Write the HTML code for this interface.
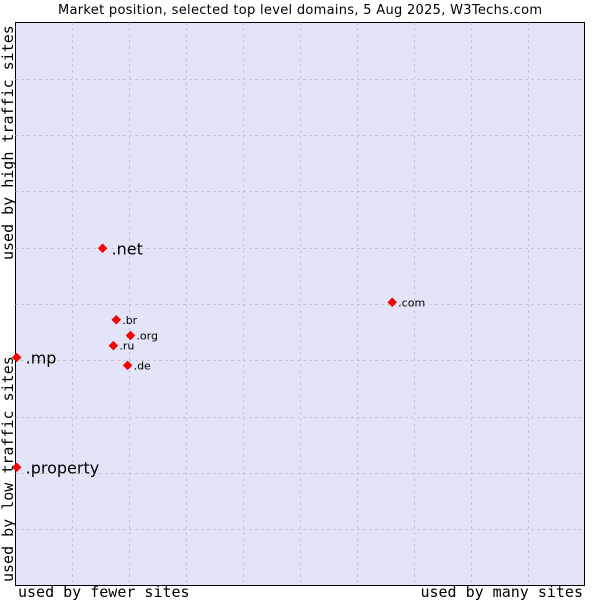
<!DOCTYPE html>
<html><head><meta charset="utf-8"><style>
body{margin:0;background:#fff;width:600px;height:600px;overflow:hidden}
svg{display:block}
</style></head><body>
<svg id="chart" width="600" height="600" xmlns="http://www.w3.org/2000/svg">
<text x="300" y="14" text-anchor="middle" font-family="DejaVu Sans, sans-serif" font-size="13" textLength="484" fill="#000">Market position, selected top level domains, 5 Aug 2025, W3Techs.com</text>
<rect x="15.5" y="22.5" width="569" height="563" fill="#e3e4f8" stroke="#000" stroke-width="1"/>
<g id="grid"></g>
<g id="points"></g>
<text x="18" y="597" font-family="DejaVu Sans Mono, monospace" font-size="15">used by fewer sites</text>
<text x="583" y="597" text-anchor="end" font-family="DejaVu Sans Mono, monospace" font-size="15">used by many sites</text>
<text transform="translate(13,582) rotate(-90)" font-family="DejaVu Sans Mono, monospace" font-size="15">used by low traffic sites</text>
<text transform="translate(13,260) rotate(-90)" font-family="DejaVu Sans Mono, monospace" font-size="15">used by high traffic sites</text>
</svg>
<script>
const domains = [".net", ".com", ".br", ".org", ".ru", ".de", ".mp", ".property"];
const xValues = [1.53, 6.62, 1.77, 2.02, 1.72, 1.97, 0.02, 0.02];
const yValues = [5.99, 5.03, 4.72, 4.44, 4.26, 3.91, 4.05, 2.10];
const bigLabel = [true, false, false, false, false, false, true, true];
const X0=15.5, X1=584.5, Y0=585.5, Y1=22.5, MAX=10;
const sx = v => X0 + v/MAX*(X1-X0);
const sy = v => Y0 - v/MAX*(Y0-Y1);
const NS="http://www.w3.org/2000/svg";
const grid=document.getElementById('grid');
for(let i=1;i<MAX;i++){
  const v=document.createElementNS(NS,'line');
  
  
  const x=Math.round(sx(i))+0.5;
  v.setAttribute('x1',x);v.setAttribute('x2',x);v.setAttribute('y1',Y1);v.setAttribute('y2',Y0);
  v.setAttribute('stroke','#bbb');v.setAttribute('stroke-dasharray','2,4');
  grid.appendChild(v);
  const h=document.createElementNS(NS,'line');
  
  
  const y=Math.round(sy(i))+0.5;
  h.setAttribute('y1',y);h.setAttribute('y2',y);h.setAttribute('x1',X0);h.setAttribute('x2',X1);
  h.setAttribute('stroke','#bbb');h.setAttribute('stroke-dasharray','2,4');
  grid.appendChild(h);
}
const pts=document.getElementById('points');
domains.forEach((d,i)=>{
  const x=sx(xValues[i]), y=sy(yValues[i]);
  const p=document.createElementNS(NS,'polygon');
  
  
  p.setAttribute('points',`${x},${y-4.5} ${x+4.5},${y} ${x},${y+4.5} ${x-4.5},${y}`);
  p.setAttribute('fill','#f00');p.setAttribute('stroke','#c00');p.setAttribute('stroke-width','0.5');
  pts.appendChild(p);
  const t=document.createElementNS(NS,'text');
  
  
  t.setAttribute('x',x+(bigLabel[i]?9:6));
  t.setAttribute('y',y+(bigLabel[i]?6:4));
  t.setAttribute('font-family','DejaVu Sans, sans-serif');
  t.setAttribute('font-size',bigLabel[i]?'16':'11');
  t.textContent=d;
  pts.appendChild(t);
});
</script>
</body></html>
